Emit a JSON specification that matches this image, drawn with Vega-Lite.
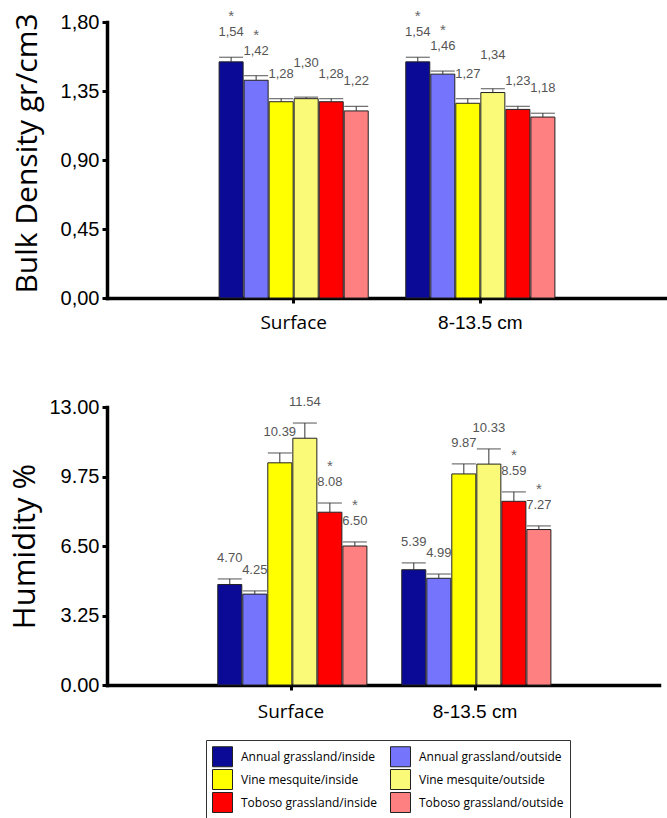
{
  "$schema": "https://vega.github.io/schema/vega-lite/v6.json",
  "background": "white",
  "padding": {"left": 8, "top": 9, "right": 0, "bottom": 0},
  "autosize": {"type": "pad"},
  "bounds": "flush",
  "spacing": 109,
  "datasets": {
    "bd": [
      {"depth": "Surface", "series": "Annual grassland/inside", "value": 1.54, "err": 0.03, "sig": 1},
      {"depth": "Surface", "series": "Annual grassland/outside", "value": 1.42, "err": 0.03, "sig": 1},
      {"depth": "Surface", "series": "Vine mesquite/inside", "value": 1.28, "err": 0.02, "sig": 0},
      {"depth": "Surface", "series": "Vine mesquite/outside", "value": 1.30, "err": 0.01, "sig": 0},
      {"depth": "Surface", "series": "Toboso grassland/inside", "value": 1.28, "err": 0.02, "sig": 0},
      {"depth": "Surface", "series": "Toboso grassland/outside", "value": 1.22, "err": 0.03, "sig": 0},
      {"depth": "8-13.5 cm", "series": "Annual grassland/inside", "value": 1.54, "err": 0.03, "sig": 1},
      {"depth": "8-13.5 cm", "series": "Annual grassland/outside", "value": 1.46, "err": 0.02, "sig": 1},
      {"depth": "8-13.5 cm", "series": "Vine mesquite/inside", "value": 1.27, "err": 0.03, "sig": 0},
      {"depth": "8-13.5 cm", "series": "Vine mesquite/outside", "value": 1.34, "err": 0.025, "sig": 0},
      {"depth": "8-13.5 cm", "series": "Toboso grassland/inside", "value": 1.23, "err": 0.02, "sig": 0},
      {"depth": "8-13.5 cm", "series": "Toboso grassland/outside", "value": 1.18, "err": 0.025, "sig": 0}
    ],
    "hum": [
      {"depth": "Surface", "series": "Annual grassland/inside", "value": 4.70, "err": 0.26, "sig": 0},
      {"depth": "Surface", "series": "Annual grassland/outside", "value": 4.25, "err": 0.15, "sig": 0},
      {"depth": "Surface", "series": "Vine mesquite/inside", "value": 10.39, "err": 0.46, "sig": 0},
      {"depth": "Surface", "series": "Vine mesquite/outside", "value": 11.54, "err": 0.71, "sig": 0},
      {"depth": "Surface", "series": "Toboso grassland/inside", "value": 8.08, "err": 0.43, "sig": 1},
      {"depth": "Surface", "series": "Toboso grassland/outside", "value": 6.50, "err": 0.19, "sig": 1},
      {"depth": "8-13.5 cm", "series": "Annual grassland/inside", "value": 5.39, "err": 0.32, "sig": 0},
      {"depth": "8-13.5 cm", "series": "Annual grassland/outside", "value": 4.99, "err": 0.20, "sig": 0},
      {"depth": "8-13.5 cm", "series": "Vine mesquite/inside", "value": 9.87, "err": 0.47, "sig": 0},
      {"depth": "8-13.5 cm", "series": "Vine mesquite/outside", "value": 10.33, "err": 0.71, "sig": 0},
      {"depth": "8-13.5 cm", "series": "Toboso grassland/inside", "value": 8.59, "err": 0.44, "sig": 1},
      {"depth": "8-13.5 cm", "series": "Toboso grassland/outside", "value": 7.27, "err": 0.17, "sig": 1}
    ]
  },
  "config": {
    "view": {"stroke": null},
    "axis": {
      "domainColor": "black", "domainWidth": 3.5, "domainCap": "square",
      "tickColor": "black", "tickWidth": 3, "tickSize": 5,
      "grid": false, "labelColor": "black", "labelFont": "Liberation Sans"
    },
    "axisY": {
      "labelFontSize": 20, "labelPadding": 3,
      "titleFont": "Open Sans", "titleFontWeight": "normal",
      "titleColor": "black"
    },
    "axisX": {"labelFontSize": 19, "labelAngle": 0, "labelPadding": 10, "title": null},
    "text": {"font": "Liberation Sans"}
  },
  "vconcat": [
    {
      "width": 560,
      "height": 276,
      "data": {"name": "bd"},
      "transform": [
        {"calculate": "datum.value + datum.err", "as": "hi"},
        {"calculate": "replace(format(datum.value, '.2f'), '.', ',')", "as": "lab"}
      ],
      "encoding": {
        "x": {
          "field": "depth", "type": "nominal",
          "scale": {"type": "band", "domain": ["Surface", "8-13.5 cm"], "paddingInner": 0, "paddingOuter": 0.5},
          "axis": {
            "title": null,
            "labelFont": {"condition": {"test": "datum.value === 'Surface'", "value": "Open Sans"}, "value": "Liberation Sans"}
          }
        },
        "xOffset": {
          "field": "series", "type": "nominal",
          "scale": {
            "domain": ["Annual grassland/inside", "Annual grassland/outside", "Vine mesquite/inside", "Vine mesquite/outside", "Toboso grassland/inside", "Toboso grassland/outside"],
            "paddingInner": 0.04, "paddingOuter": 0.75
          }
        }
      },
      "layer": [
        {
          "mark": {"type": "bar", "stroke": "#222", "strokeWidth": 1},
          "encoding": {
            "y": {
              "field": "value", "type": "quantitative",
              "scale": {"domain": [0, 1.8], "nice": false, "zero": true},
              "axis": {
                "title": "Bulk Density gr/cm3",
                "titleFontSize": 30,
                "titleX": -65,
                "titleY": 131,
                "values": [0, 0.45, 0.9, 1.35, 1.8],
                "labelExpr": "replace(format(datum.value, '.2f'), '.', ',')"
              }
            },
            "color": {
              "field": "series", "type": "nominal",
              "scale": {
                "domain": ["Annual grassland/inside", "Vine mesquite/inside", "Toboso grassland/inside", "Annual grassland/outside", "Vine mesquite/outside", "Toboso grassland/outside"],
                "range": ["#0a0a96", "#ffff00", "#ff0000", "#7474fc", "#fafa78", "#ff8080"]
              },
              "legend": {
                "title": null, "orient": "none", "legendX": 99, "legendY": 718,
                "columns": 2, "symbolType": "square", "symbolSize": 400,
                "symbolStrokeColor": "#222", "symbolStrokeWidth": 1, "symbolOpacity": 1,
                "labelFont": "Open Sans", "labelFontSize": 12, "labelColor": "black",
                "labelOffset": 8, "columnPadding": 11, "rowPadding": -2.5,
                "strokeColor": "#333", "padding": 6, "labelLimit": 300,
                "fillColor": "white"
              }
            }
          }
        },
        {
          "mark": {"type": "rule", "color": "#333", "strokeWidth": 1},
          "encoding": {
            "y": {"field": "value", "type": "quantitative"},
            "y2": {"field": "hi"}
          }
        },
        {
          "mark": {"type": "tick", "orient": "horizontal", "size": 24, "thickness": 1.2, "color": "#333"},
          "encoding": {"y": {"field": "hi", "type": "quantitative"}}
        },
        {
          "mark": {"type": "text", "dy": {"expr": "datum.series === 'Vine mesquite/outside' ? -34 : -25"}, "baseline": "middle", "fontSize": 13, "color": "#555"},
          "encoding": {
            "y": {"field": "hi", "type": "quantitative"},
            "text": {"field": "lab"}
          }
        },
        {
          "transform": [{"filter": "datum.sig == 1"}],
          "mark": {"type": "text", "dy": -41, "baseline": "middle", "fontSize": 15, "color": "#666", "text": "*"},
          "encoding": {"y": {"field": "hi", "type": "quantitative"}}
        }
      ]
    },
    {
      "width": 552,
      "height": 278,
      "data": {"name": "hum"},
      "transform": [
        {"calculate": "datum.value + datum.err", "as": "hi"}
      ],
      "encoding": {
        "x": {
          "field": "depth", "type": "nominal",
          "scale": {"type": "band", "domain": ["Surface", "8-13.5 cm"], "paddingInner": 0, "paddingOuter": 0.5},
          "axis": {
            "title": null,
            "labelPadding": 12,
            "labelFont": {"condition": {"test": "datum.value === 'Surface'", "value": "Open Sans"}, "value": "Liberation Sans"}
          }
        },
        "xOffset": {
          "field": "series", "type": "nominal",
          "scale": {
            "domain": ["Annual grassland/inside", "Annual grassland/outside", "Vine mesquite/inside", "Vine mesquite/outside", "Toboso grassland/inside", "Toboso grassland/outside"],
            "paddingInner": 0.04, "paddingOuter": 0.7
          }
        }
      },
      "layer": [
        {
          "mark": {"type": "bar", "stroke": "#222", "strokeWidth": 1},
          "encoding": {
            "y": {
              "field": "value", "type": "quantitative",
              "scale": {"domain": [0, 13], "nice": false, "zero": true},
              "axis": {
                "title": "Humidity %",
                "titleFontSize": 31,
                "titleX": -66,
                "values": [0, 3.25, 6.5, 9.75, 13],
                "format": ".2f"
              }
            },
            "color": {"field": "series", "type": "nominal"}
          }
        },
        {
          "mark": {"type": "rule", "color": "#333", "strokeWidth": 1},
          "encoding": {
            "y": {"field": "value", "type": "quantitative"},
            "y2": {"field": "hi"}
          }
        },
        {
          "mark": {"type": "tick", "orient": "horizontal", "size": 24, "thickness": 1.2, "color": "#333"},
          "encoding": {"y": {"field": "hi", "type": "quantitative"}}
        },
        {
          "mark": {"type": "text", "dy": -21, "baseline": "middle", "fontSize": 13, "color": "#555"},
          "encoding": {
            "y": {"field": "hi", "type": "quantitative"},
            "text": {"field": "value", "type": "quantitative", "format": ".2f"}
          }
        },
        {
          "transform": [{"filter": "datum.sig == 1"}],
          "mark": {"type": "text", "dy": -37, "baseline": "middle", "fontSize": 15, "color": "#666", "text": "*"},
          "encoding": {"y": {"field": "hi", "type": "quantitative"}}
        }
      ]
    }
  ]
}
